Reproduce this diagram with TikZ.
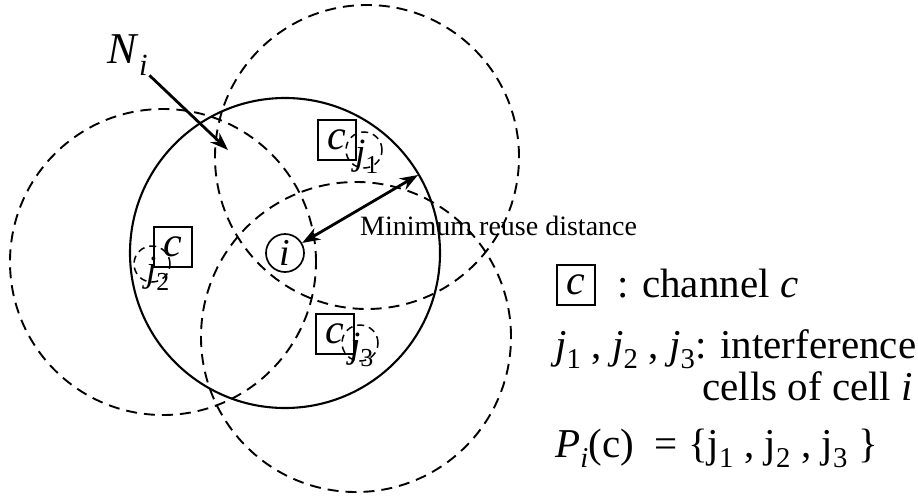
\documentclass[tikz,border=0pt]{standalone}
\usepackage{fontspec}
\setmainfont{Liberation Serif}
\usetikzlibrary{arrows.meta}

\newcommand{\fsz}[1]{\fontsize{#1}{#1}\selectfont}

\begin{document}
\begin{tikzpicture}[x=1pt, y=-1pt, >={Stealth[length=18pt, width=13pt]},
  ring/.style={line width=1.9pt, dash pattern=on 11pt off 7pt},
  jcell/.style={circle, draw, line width=1.5pt, dash pattern=on 7pt off 5pt, minimum size=36pt, inner sep=0pt},
  jlab/.style={inner sep=0pt, font=\fsz{37}},
  chbox/.style={draw, line width=1.8pt, minimum width=38pt, minimum height=40pt, inner sep=0pt, font=\fsz{42}\itshape},
  legtext/.style={inner sep=0pt, font=\fsz{41}},
  arrline/.style={line width=2.8pt}]
  \useasboundingbox (0,0) rectangle (918,498);

  % cell i and its reuse distance
  \coordinate (ci) at (285,253);
  \draw[line width=2.1pt] (ci) circle (155pt);
  \node[circle, draw, line width=1.7pt, minimum size=38pt, inner sep=0pt, font=\fsz{38}\itshape] (celli) at (ci) {i};

  % rings round the interference cells
  \draw[ring] (367,157) circle (152pt);
  \draw[ring] (163,262) circle (153pt);
  \draw[ring] (356,337) circle (155pt);

  % interference cells j1, j2, j3
  \node[jcell] (j1) at (364,150) {};
  \node[jcell] (j2) at (152,264) {};
  \node[jcell] (j3) at (360,343) {};
  \node[jlab] (j1lab) at (367,157) {\textit{j}\textsubscript{1}};
  \node[jlab] (j2lab) at (158,274) {\textit{j}\textsubscript{2}};
  \node[jlab] (j3lab) at (362,350) {\textit{j}\textsubscript{3}};

  % channel c in each cell
  \node[chbox] (ch1) at (337,140) {c};
  \node[chbox] (ch2) at (173,247) {c};
  \node[chbox] (ch3) at (335,334) {c};

  % N_i
  \node[inner sep=1pt, font=\fsz{44}] (ni) at (128,55) {\textit{N}\textsubscript{\textit{i}}};
  \coordinate (nitip) at (228,150);
  \draw[->, arrline] (ni) -- (nitip);

  % minimum reuse distance
  \coordinate (rim) at (418,175);
  \draw[<->, arrline] (celli) -- (rim);
  \node[anchor=base west, inner sep=0pt, font=\fsz{28}] (mrd) at (360,235) {Minimum reuse distance};

  % legend
  \node[chbox] (legbox) at (576,285) {c};
  \node[legtext, anchor=base west] (legch) at (617,297) {: channel \textit{c}};
  \node[legtext, anchor=base west] (legj) at (555,358) {\textit{j}\textsubscript{1} , \textit{j}\textsubscript{2} , \textit{j}\textsubscript{3}: interference};
  \node[legtext, anchor=base east] (legcells) at (913,400) {cells of cell \textit{i}};
  \node[legtext, anchor=base west] (legp) at (555,457) {\textit{P}\textsubscript{\textit{i}}(c) \ = \{j\textsubscript{1} , j\textsubscript{2} , j\textsubscript{3} \}};
\end{tikzpicture}
\end{document}
